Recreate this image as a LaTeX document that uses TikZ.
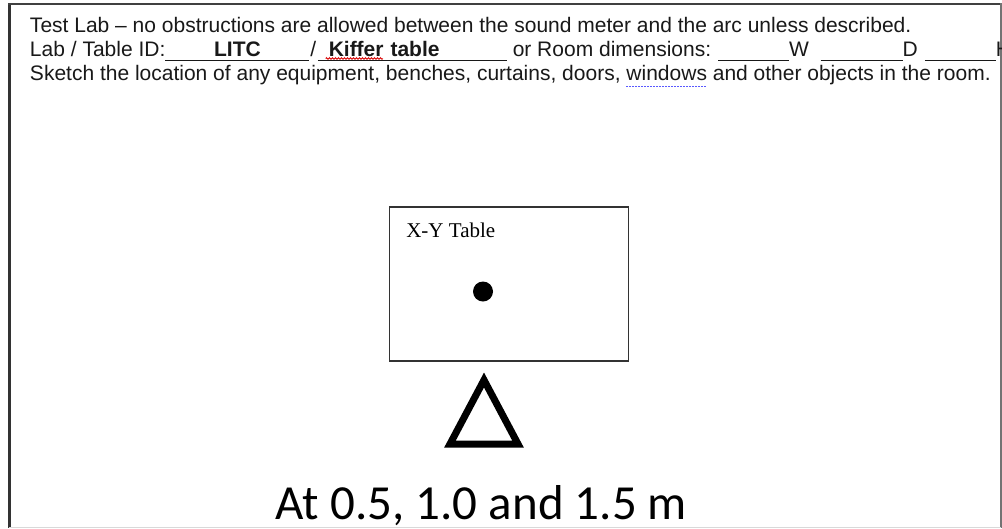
\documentclass[tikz,border=0pt]{standalone}
\usepackage{fontspec}
\setmainfont{Liberation Sans}
\newfontfamily\serifface{Liberation Serif}
\newfontfamily\noteface{Carlito}
\usetikzlibrary{positioning, decorations.pathmorphing}
\tikzstyle{header}  = [inner sep=0pt, outer sep=0pt, text height=15pt, text depth=4pt, font=\fontsize{21}{24}\selectfont, text=black!90]
\tikzstyle{blank}   = [header, font=\fontsize{21}{24}\selectfont\bfseries]
\tikzstyle{rule}    = [black!90, line width=1.2pt]
\tikzstyle{xytable} = [rectangle, draw=black!80, line width=1.3pt, minimum width=239pt, minimum height=154pt, inner sep=0pt]
\tikzstyle{meter}   = [line width=7pt, line join=miter]
\tikzstyle{typo}    = [red!85!black, line width=0.8pt, decorate, decoration={zigzag, amplitude=0.9pt, segment length=3pt}]
\tikzstyle{grammar} = [blue!65, line width=1pt, dash pattern=on 1.5pt off 1.5pt]

\begin{document}
\begin{tikzpicture}[x=1pt, y=-1pt]

\useasboundingbox (0,0) rectangle (1002,528);
\fill[white] (0,0) rectangle (1002,528);

% page frame
\draw[black!80, line width=3pt] (9.5,3) -- (9.5,528);
\draw[black!75, line width=2pt] (8,4) -- (1002,4);
\draw[black!55, line width=2pt] (1000.5,3) -- (1000.5,528);
\draw[black!15, line width=1pt] (9,527.5) -- (1001,527.5);

\node (intro)    [header, anchor=base west] at (30,32.5) {Test Lab – no obstructions are allowed between the sound meter and the arc unless described.};
\node (idlabel)  [header, anchor=base west] at (30,56.5) {Lab / Table ID:};
\node (litc)     [blank, minimum width=144pt, right=0pt of idlabel] {LITC};
\node (slash)    [header, right=1pt of litc]                    {/};
\node (kiffer)   [blank, text width=189pt, align=left, right=1.5pt of slash] {\hspace*{11pt}Kiffer table};
\node (roomdim)  [header, right=6pt of kiffer]                  {or Room dimensions:};
\node (wblank)   [blank, minimum width=71pt, right=7pt of roomdim] {};
\node (wunit)    [header, right=0pt of wblank]                  {W};
\node (dblank)   [blank, minimum width=82pt, right=11.6pt of wunit] {};
\node (dunit)    [header, right=0pt of dblank]                  {D};
\node (hblank)   [blank, minimum width=71pt, right=7pt of dunit] {};
\node (hunit)    [header, right=0pt of hblank]                  {H};
\node (sketch)   [header, anchor=base west] at (30,80) {Sketch the location of any equipment, benches, curtains, doors,};
\node (windows)  [header, right=5.8pt of sketch]                {windows};
\node (objects)  [header, right=5.8pt of windows]               {and other objects in the room.};

\foreach \b in {litc, kiffer, wblank, dblank, hblank}
  \draw[rule] (\b.south west) -- (\b.south east);
\draw[typo]    ([xshift=8pt,yshift=2pt]kiffer.south west) -- ([xshift=65pt,yshift=2pt]kiffer.south west);
\draw[grammar] ([yshift=-2pt]windows.south west) -- ([yshift=-2pt]windows.south east);

% x-y table with probe
\node (xytable)  [xytable] at (508.75,284) {};
\node (tablelabel) [inner sep=0pt, anchor=north west, font=\serifface\fontsize{21}{24}\selectfont] at ([xshift=17.5pt,yshift=-16.5pt]xytable.north west) {X-Y Table};
\node (probe)    [circle, fill=black, minimum size=20pt, inner sep=0pt] at (483,291.5) {};

% sound meter
\draw[meter] (484,380) -- (450,444) -- (518,444) -- cycle;

\node (distances) [anchor=base, font=\noteface\fontsize{49}{56}\selectfont] at (481.5,519) {At 0.5, 1.0 and 1.5 m};

\end{tikzpicture}
\end{document}
